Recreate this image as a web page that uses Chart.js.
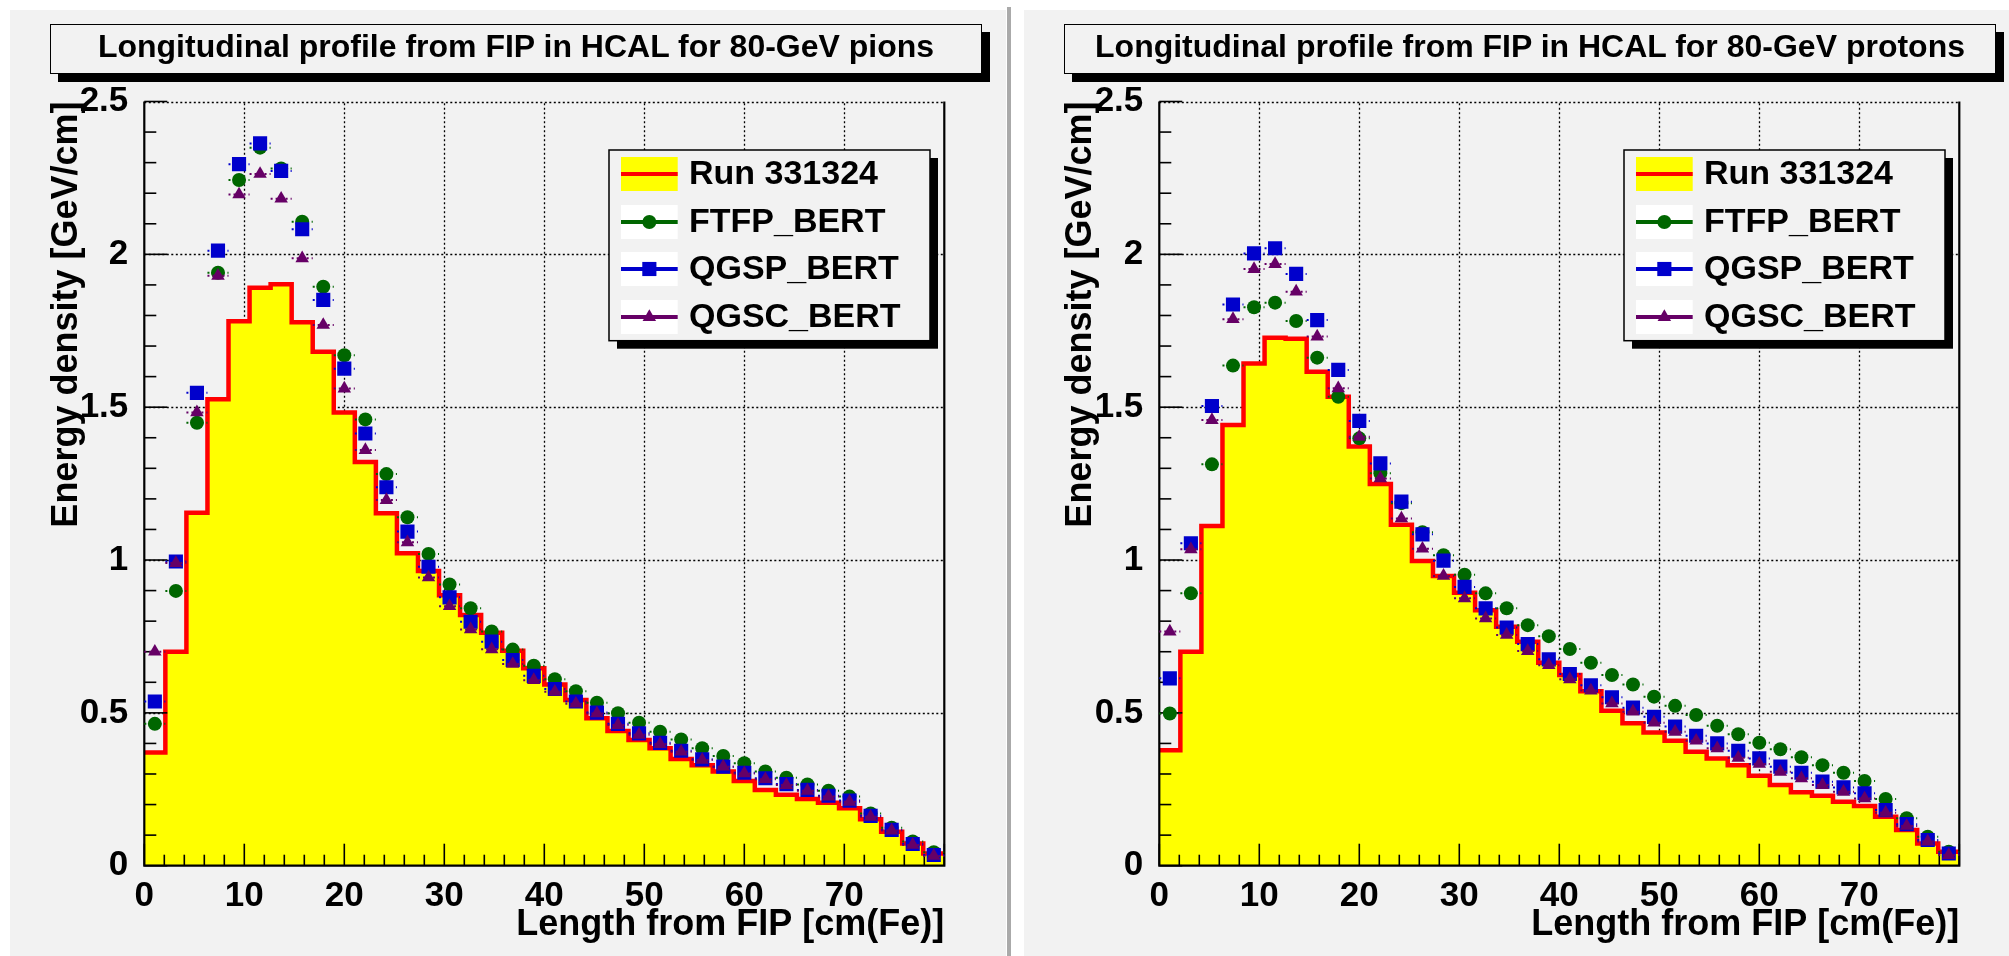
<!DOCTYPE html>
<html><head><meta charset="utf-8">
<script src="https://cdn.jsdelivr.net/npm/chart.js@4.4.0/dist/chart.umd.min.js"></script>
<style>
html,body{margin:0;padding:0;background:#fff;width:2009px;height:956px;overflow:hidden;font-family:'Liberation Sans',Arial,sans-serif;}
.panel{position:absolute;background:#f2f2f2;}
#p1{left:10px;top:10px;width:996px;height:946px;}
#p2{left:1024px;top:10px;width:985px;height:946px;}
#sep{position:absolute;left:1007px;top:7px;width:4px;height:949px;background:#aaaaaa;}
canvas{position:absolute;left:0;top:0;}
.title{position:absolute;top:14px;left:40px;width:932px;height:50px;box-sizing:border-box;border:1.5px solid #000;background:#f2f2f2;box-shadow:8px 8px 0 #000;font:bold 32px 'Liberation Sans',Arial,sans-serif;text-align:center;line-height:43px;white-space:nowrap;z-index:2;color:#000;}
</style>
</head><body>
<div class="panel" id="p1"><canvas id="c1" width="996" height="946"></canvas><div class="title" id="t1"></div></div>
<div id="sep"></div>
<div class="panel" id="p2"><canvas id="c2" width="985" height="946"></canvas><div class="title" id="t2"></div></div>
<script>
// ---- binning and axis definitions ----
const xMin = 0, xMax = 80, nBins = 38;
const yMin = 0, yMax = 2.5;
const xTickValues = [0, 10, 20, 30, 40, 50, 60, 70];
const xTickLabels = ['0', '10', '20', '30', '40', '50', '60', '70'];
const yTickValues = [0, 0.5, 1, 1.5, 2, 2.5];
const yTickLabels = ['0', '0.5', '1', '1.5', '2', '2.5'];
const seriesNames = ['Run 331324', 'FTFP_BERT', 'QGSP_BERT', 'QGSC_BERT'];
const panelTitles = ['Longitudinal profile from FIP in HCAL for 80-GeV pions',
                     'Longitudinal profile from FIP in HCAL for 80-GeV protons'];
const xTitle = 'Length from FIP [cm(Fe)]';
const yTitle = 'Energy density [GeV/cm]';

// ---- pions ----
const piData = [0.370, 0.700, 1.155, 1.526, 1.781, 1.891, 1.902, 1.778, 1.681, 1.483, 1.321, 1.153, 1.022, 0.964, 0.885, 0.820, 0.762, 0.703, 0.646, 0.593, 0.542, 0.482, 0.441, 0.411, 0.384, 0.349, 0.329, 0.308, 0.277, 0.248, 0.232, 0.218, 0.206, 0.188, 0.152, 0.111, 0.073, 0.040];
const piFTFP = [0.464, 0.899, 1.449, 1.940, 2.243, 2.349, 2.281, 2.107, 1.894, 1.670, 1.460, 1.281, 1.140, 1.020, 0.920, 0.842, 0.766, 0.707, 0.654, 0.610, 0.571, 0.533, 0.499, 0.468, 0.438, 0.413, 0.384, 0.359, 0.335, 0.308, 0.288, 0.266, 0.245, 0.226, 0.171, 0.124, 0.079, 0.044];
const piQGSP = [0.537, 0.995, 1.547, 2.012, 2.295, 2.363, 2.273, 2.082, 1.851, 1.626, 1.414, 1.238, 1.093, 0.978, 0.878, 0.798, 0.733, 0.673, 0.621, 0.578, 0.537, 0.501, 0.464, 0.433, 0.402, 0.376, 0.348, 0.324, 0.304, 0.286, 0.267, 0.248, 0.229, 0.213, 0.163, 0.117, 0.071, 0.035];
const piQGSC = [0.700, 0.990, 1.483, 1.930, 2.196, 2.263, 2.182, 1.987, 1.769, 1.561, 1.360, 1.196, 1.058, 0.943, 0.849, 0.773, 0.708, 0.660, 0.607, 0.569, 0.530, 0.498, 0.460, 0.428, 0.398, 0.373, 0.346, 0.324, 0.302, 0.283, 0.264, 0.245, 0.226, 0.209, 0.160, 0.115, 0.068, 0.032];

// ---- protons ----
const prData = [0.378, 0.700, 1.111, 1.442, 1.643, 1.727, 1.724, 1.616, 1.534, 1.371, 1.249, 1.115, 0.997, 0.948, 0.893, 0.836, 0.782, 0.733, 0.664, 0.624, 0.571, 0.507, 0.466, 0.436, 0.409, 0.373, 0.351, 0.329, 0.294, 0.264, 0.240, 0.229, 0.209, 0.195, 0.160, 0.117, 0.073, 0.046];
const prFTFP = [0.498, 0.891, 1.313, 1.636, 1.827, 1.842, 1.782, 1.662, 1.534, 1.398, 1.284, 1.186, 1.091, 1.016, 0.952, 0.891, 0.842, 0.787, 0.751, 0.709, 0.664, 0.624, 0.593, 0.553, 0.523, 0.493, 0.458, 0.430, 0.402, 0.381, 0.355, 0.329, 0.304, 0.277, 0.218, 0.155, 0.095, 0.046];
const prQGSP = [0.613, 1.055, 1.504, 1.836, 2.003, 2.020, 1.936, 1.785, 1.622, 1.455, 1.316, 1.191, 1.084, 0.998, 0.912, 0.842, 0.779, 0.725, 0.675, 0.627, 0.590, 0.551, 0.517, 0.487, 0.455, 0.425, 0.400, 0.376, 0.351, 0.324, 0.304, 0.275, 0.256, 0.237, 0.182, 0.136, 0.084, 0.040];
const prQGSC = [0.766, 1.035, 1.458, 1.788, 1.952, 1.968, 1.878, 1.731, 1.562, 1.403, 1.267, 1.136, 1.037, 0.948, 0.875, 0.809, 0.755, 0.702, 0.656, 0.610, 0.573, 0.531, 0.504, 0.468, 0.438, 0.409, 0.384, 0.353, 0.333, 0.307, 0.286, 0.264, 0.242, 0.220, 0.173, 0.130, 0.079, 0.035];

const FONT = "'Liberation Sans', Arial, sans-serif";
const GREEN = '#006600', BLUE = '#0000cc', PURPLE = '#660066';
const binW = (xMax - xMin) / nBins;

function histPoints(vals) {
  const pts = vals.map((v, i) => ({x: xMin + i * binW, y: v}));
  pts.push({x: xMax, y: vals[vals.length - 1]});
  return pts;
}
function markerPoints(vals) {
  return vals.map((v, i) => ({x: xMin + (i + 0.5) * binW, y: v}));
}

const rootPlugin = {
  id: 'rootStyle',
  beforeDatasetsDraw(chart) {
    const {ctx, chartArea: a, scales: {x, y}} = chart;
    ctx.save();
    ctx.strokeStyle = '#000'; ctx.lineWidth = 1.3; ctx.setLineDash([2, 2.5]);
    xTickValues.forEach(v => {
      if (v === xMin) return;
      const px = Math.round(x.getPixelForValue(v)) + 0.5;
      ctx.beginPath(); ctx.moveTo(px, a.bottom); ctx.lineTo(px, a.top); ctx.stroke();
    });
    yTickValues.forEach(v => {
      if (v === yMin) return;
      const py = Math.round(y.getPixelForValue(v)) + 0.5;
      ctx.beginPath(); ctx.moveTo(a.left, py); ctx.lineTo(a.right, py); ctx.stroke();
    });
    ctx.restore();
  },
  beforeDatasetDraw(chart, args) {
    const ds = chart.data.datasets[args.index];
    if (!ds.errBars) return;
    const {ctx, scales: {x, y}} = chart;
    ctx.save();
    ctx.strokeStyle = ds.backgroundColor; ctx.lineWidth = 2; ctx.setLineDash([2, 3]);
    ds.data.forEach(p => {
      const py = y.getPixelForValue(p.y);
      ctx.beginPath();
      ctx.moveTo(x.getPixelForValue(p.x - binW / 2), py);
      ctx.lineTo(x.getPixelForValue(p.x + binW / 2), py);
      ctx.stroke();
    });
    ctx.restore();
  },
  afterDatasetDraw(chart, args) {
    if (args.index !== 0) return;
    const {ctx, chartArea: a, scales: {x, y}} = chart;
    ctx.save();
    ctx.setLineDash([]);
    ctx.strokeStyle = '#000';
    ctx.lineWidth = 1.6;
    for (let k = 0; k <= 25; k++) {
      const v = yMin + k * 0.1;
      const py = y.getPixelForValue(v);
      const len = (k % 5 === 0) ? 23 : 12;
      ctx.beginPath(); ctx.moveTo(a.left, py); ctx.lineTo(a.left + len, py); ctx.stroke();
    }
    for (let k = 0; k <= 40; k++) {
      const v = xMin + k * 2;
      const px = x.getPixelForValue(v);
      const len = (k % 5 === 0) ? 22 : 11;
      ctx.beginPath(); ctx.moveTo(px, a.bottom); ctx.lineTo(px, a.bottom - len); ctx.stroke();
    }
    ctx.lineWidth = 2.2;
    ctx.beginPath();
    ctx.moveTo(a.left, a.top); ctx.lineTo(a.left, a.bottom); ctx.lineTo(a.right, a.bottom); ctx.lineTo(a.right, a.top);
    ctx.stroke();
    ctx.restore();
  },
  afterDraw(chart) {
    const {ctx, chartArea: a} = chart;
    const bx = a.left + 464.7, by = 140, bw = 321, bh = 190.7;
    ctx.save();
    ctx.setLineDash([]);
    ctx.fillStyle = '#000'; ctx.fillRect(bx + 8, by + 8, bw, bh);
    ctx.fillStyle = '#f2f2f2'; ctx.fillRect(bx, by, bw, bh);
    ctx.strokeStyle = '#000'; ctx.lineWidth = 1.5; ctx.strokeRect(bx, by, bw, bh);
    const rowY = [24, 72, 119, 167];
    const sx = bx + 12, sw = 56.7, sh = 34;
    chart.data.datasets.forEach((ds, i) => {
      const cy = by + rowY[i];
      if (i === 0) {
        ctx.fillStyle = ds.backgroundColor; ctx.fillRect(sx, cy - sh / 2, sw, sh);
        ctx.strokeStyle = ds.borderColor; ctx.lineWidth = 4;
        ctx.beginPath(); ctx.moveTo(sx, cy); ctx.lineTo(sx + sw, cy); ctx.stroke();
      } else {
        ctx.fillStyle = '#ffffff'; ctx.fillRect(sx, cy - sh / 2, sw, sh);
        ctx.strokeStyle = ds.backgroundColor; ctx.lineWidth = 4;
        ctx.beginPath(); ctx.moveTo(sx, cy); ctx.lineTo(sx + sw, cy); ctx.stroke();
        ctx.fillStyle = ds.backgroundColor;
        Chart.helpers.drawPoint(ctx, {pointStyle: ds.pointStyle, radius: ds.pointRadius, rotation: 0, borderWidth: 0}, sx + sw / 2, cy);
      }
      ctx.fillStyle = '#000';
      ctx.font = "bold 34px " + FONT;
      ctx.textBaseline = 'middle'; ctx.textAlign = 'left';
      ctx.fillText(ds.label, bx + 80, cy + 1);
    });
    ctx.restore();
  }
};

function makeChart(canvasId, dataVals, ftfp, qgsp, qgsc, yAxisWidth, padRight) {
  const ctx = document.getElementById(canvasId);
  return new Chart(ctx, {
    type: 'line',
    data: {
      datasets: [
        {label: seriesNames[0], data: histPoints(dataVals), stepped: 'before', borderColor: '#ff0000', borderWidth: 4.5,
         backgroundColor: '#ffff00', fill: 'origin', pointRadius: 0, order: 10, borderJoinStyle: 'miter', tension: 0},
        {label: seriesNames[1], data: markerPoints(ftfp), showLine: false, pointStyle: 'circle', pointRadius: 7,
         backgroundColor: GREEN, borderColor: GREEN, pointBorderWidth: 0, order: 3, errBars: true},
        {label: seriesNames[2], data: markerPoints(qgsp), showLine: false, pointStyle: 'rect', pointRadius: 10,
         backgroundColor: BLUE, borderColor: BLUE, pointBorderWidth: 0, order: 2, errBars: true},
        {label: seriesNames[3], data: markerPoints(qgsc), showLine: false, pointStyle: 'triangle', pointRadius: 7.8,
         backgroundColor: PURPLE, borderColor: PURPLE, pointBorderWidth: 0, order: 1, errBars: true}
      ]
    },
    options: {
      responsive: false, animation: false, events: [],
      layout: {padding: {left: 0, top: 91.5, right: padRight, bottom: 0}},
      plugins: {legend: {display: false}, tooltip: {enabled: false}, title: {display: false}},
      scales: {
        x: {
          type: 'linear', min: xMin, max: xMax,
          afterBuildTicks: s => { s.ticks = xTickValues.map(v => ({value: v})); },
          afterFit: s => { s.height = 90.3; },
          ticks: {callback: (v, i) => xTickLabels[i], font: {family: FONT, size: 35, weight: 'bold'}, color: '#000',
                  padding: 2, maxRotation: 0, autoSkip: false},
          grid: {display: false}, border: {display: false},
          title: {display: true, text: xTitle, align: 'end', color: '#000',
                  font: {family: FONT, size: 36, weight: 'bold'}, padding: {top: 0, bottom: 9.4}}
        },
        y: {
          type: 'linear', min: yMin, max: yMax,
          afterBuildTicks: s => { s.ticks = yTickValues.map(v => ({value: v})); },
          afterFit: s => { s.width = yAxisWidth; },
          ticks: {callback: (v, i) => yTickLabels[i], font: {family: FONT, size: 35, weight: 'bold'}, color: '#000',
                  padding: 8, autoSkip: false},
          grid: {display: false}, border: {display: false},
          title: {display: true, text: yTitle, align: 'end', color: '#000',
                  font: {family: FONT, size: 36, weight: 'bold'}, padding: {top: 35, bottom: 0}}
        }
      }
    },
    plugins: [rootPlugin]
  });
}

document.getElementById('t1').textContent = panelTitles[0];
document.getElementById('t2').textContent = panelTitles[1];
makeChart('c1', piData, piFTFP, piQGSP, piQGSC, 134.3, 61.7);
makeChart('c2', prData, prFTFP, prQGSP, prQGSC, 135.3, 49.7);
</script>
</body></html>
